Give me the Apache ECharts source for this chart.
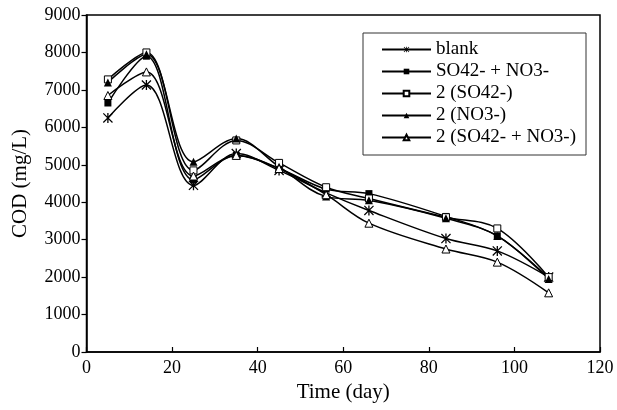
<!DOCTYPE html>
<html>
<head>
<meta charset="utf-8">
<script src="https://cdn.jsdelivr.net/npm/echarts@6/dist/echarts.min.js"></script>
<style>html,body{margin:0;padding:0;background:#fff}#c{width:617px;height:410px}</style>
</head>
<body>
<div id="c"></div>
<script>
var days = [5, 14, 25, 35, 45, 56, 66, 84, 96, 108];
var blank = [6250, 7130, 4450, 5300, 4850, 4250, 3780, 3030, 2700, 2000];
var so4no3 = [6650, 7900, 4600, 5250, 4900, 4350, 4230, 3620, 3100, 1980];
var so4x2 = [7280, 8000, 4850, 5650, 5050, 4400, 4100, 3600, 3300, 2000];
var no3x2 = [7200, 7950, 5080, 5700, 4950, 4150, 4050, 3570, 3100, 1950];
var bothx2 = [6850, 7480, 4700, 5250, 4900, 4200, 3440, 2750, 2400, 1580];
var seriesNames = ['blank', 'SO42- + NO3-', '2 (SO42-)', '2 (NO3-)', '2 (SO42- + NO3-)'];
var xTicks = [0, 20, 40, 60, 80, 100, 120];
var yTicks = [0, 1000, 2000, 3000, 4000, 5000, 6000, 7000, 8000, 9000];

var star = 'path://M4.4,0L5.6,0L5.6,10L4.4,10Z M0.4,0.9L1.2,0L9.6,9.1L8.8,10Z M1.2,10L0.4,9.1L8.8,0L9.6,0.9Z';
function pairs(v){ return days.map(function(d,i){ return [d, v[i]]; }); }
var font = 'Liberation Serif';
function mk(name, vals, symbol, size, fill){
  return {
    name: name, type: 'line', data: pairs(vals), smooth: 0.35,
    symbol: symbol, symbolSize: size, showSymbol: true,
    lineStyle: { color: '#000', width: 1.5 },
    itemStyle: { color: fill, borderColor: '#000', borderWidth: fill === '#fff' ? 1 : 0 },
    emphasis: { disabled: true }, z: 3
  };
}
var chart = echarts.init(document.getElementById('c'), null, { renderer: 'canvas' });
chart.setOption({
  animation: false,
  backgroundColor: '#fff',
  grid: { left: 86.5, right: 17, top: 15, bottom: 58, show: true, borderColor: '#000', borderWidth: 1.5, backgroundColor: 'transparent' },
  legend: {
    orient: 'vertical', left: 363, top: 33, width: 221,
    padding: [7, 10, 8, 18],
    borderColor: '#333', borderWidth: 1, backgroundColor: '#fff',
    itemWidth: 49, itemHeight: 7, itemGap: 3,
    textStyle: { fontFamily: font, fontSize: 19, color: '#000', lineHeight: 15, padding: [0, 0, 0, 0] },
    data: seriesNames
  },
  xAxis: {
    type: 'value', min: 0, max: 120, interval: 20,
    name: 'Time (day)', nameLocation: 'middle', nameGap: 30,
    nameTextStyle: { fontFamily: font, fontSize: 21, color: '#000' },
    axisLine: { show: true, lineStyle: { color: '#000', width: 1.5 } },
    axisTick: { show: true, inside: true, length: 5, lineStyle: { color: '#000', width: 1.2 } },
    axisLabel: { fontFamily: font, fontSize: 18, color: '#000', margin: 7,
      formatter: function(v){ return xTicks.indexOf(v) >= 0 ? String(v) : ''; } },
    splitLine: { show: false }
  },
  yAxis: {
    type: 'value', min: 0, max: 9000, interval: 1000,
    name: 'COD (mg/L)', nameLocation: 'middle', nameGap: 56,
    nameTextStyle: { fontFamily: font, fontSize: 21, color: '#000' },
    axisLine: { show: true, lineStyle: { color: '#000', width: 1.5 } },
    axisTick: { show: true, inside: false, length: 5, lineStyle: { color: '#000', width: 1.2 } },
    axisLabel: { fontFamily: font, fontSize: 18, color: '#000', margin: 6,
      formatter: function(v){ return yTicks.indexOf(v) >= 0 ? String(v) : ''; } },
    splitLine: { show: false }
  },
  series: [
    mk(seriesNames[0], blank, star, 10, '#000'),
    mk(seriesNames[1], so4no3, 'rect', 7, '#000'),
    mk(seriesNames[2], so4x2, 'rect', 7, '#fff'),
    mk(seriesNames[3], no3x2, 'triangle', 8, '#000'),
    mk(seriesNames[4], bothx2, 'triangle', 8, '#fff')
  ]
});
</script>
</body>
</html>
